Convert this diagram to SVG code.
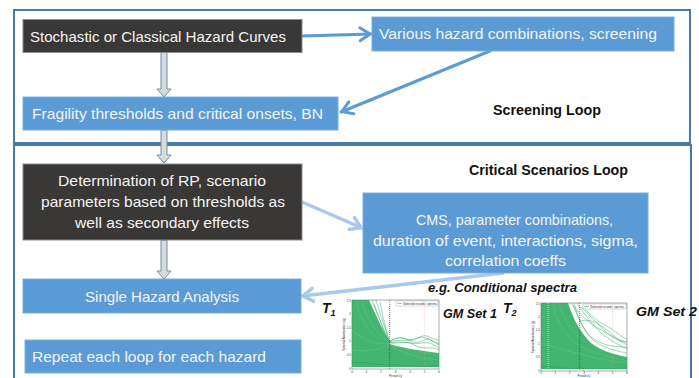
<svg xmlns="http://www.w3.org/2000/svg" width="699" height="378" viewBox="0 0 699 378">
  <style>
    .frame { fill: none; stroke: #4a78a8; stroke-width: 2; }
    .dark { fill: #3a3836; stroke: #8a8a8a; stroke-width: 1; }
    .blue { fill: #5b9bd5; stroke: #7aaede; stroke-width: 1; }
    .lbl { font-family: "Liberation Sans", Arial, sans-serif; font-size: 15px; fill: #f4f4f4; }
    .loop { font-family: "Liberation Sans", Arial, sans-serif; font-size: 14px; font-weight: bold; fill: #111; }
    .note { font-family: "Liberation Sans", Arial, sans-serif; font-size: 13px; font-weight: bold; font-style: italic; fill: #111; }
    .tsym { font-family: "Liberation Sans", Arial, sans-serif; font-size: 14px; font-weight: bold; font-style: italic; fill: #111; }
    .blk { fill: #d9d9d9; stroke: #6a8db5; stroke-width: 1; }
    .c-dark { fill: none; stroke: #5b9bd5; stroke-width: 3; stroke-linecap: round; }
    .c-light { fill: none; stroke: #a8c9e9; stroke-width: 3.5; stroke-linecap: round; }
    .axis { fill: #fff; stroke: #555; stroke-width: 0.5; }
    .crv { fill: none; stroke: #1fa356; stroke-width: 0.6; stroke-opacity: 0.75; }
    .streak { fill: none; stroke: #8fd6a8; stroke-width: 0.4; stroke-opacity: 0.6; }
    .band { fill: #1aa552; fill-opacity: 0.82; }
    .tick { font-family: "Liberation Sans", Arial, sans-serif; font-size: 3px; fill: #333; }
    .tdash { stroke: #333; stroke-width: 0.6; stroke-dasharray: 1 1; }
    .wdash { stroke: #ffffff; stroke-width: 0.6; stroke-dasharray: 1 1; }
    .rdash { stroke: #e39a9a; stroke-width: 0.4; stroke-dasharray: 0.8 0.8; }
  </style>
  <defs>
    <marker id="headDark" markerUnits="userSpaceOnUse" markerWidth="18" markerHeight="18" viewBox="-14 -9 18 18" refX="0" refY="0" orient="auto">
      <path d="M-11,-6.5 L-1,0 L-11,6.5" fill="none" stroke="#5b9bd5" stroke-width="3" stroke-linecap="round" stroke-linejoin="round"/>
    </marker>
    <marker id="headLight" markerUnits="userSpaceOnUse" markerWidth="18" markerHeight="18" viewBox="-14 -9 18 18" refX="0" refY="0" orient="auto">
      <path d="M-11,-6.5 L-1,0 L-11,6.5" fill="none" stroke="#a8c9e9" stroke-width="3.5" stroke-linecap="round" stroke-linejoin="round"/>
    </marker>
  </defs>

  <rect width="699" height="378" fill="#ffffff"/>

  <!-- loop frames -->
  <g id="frames">
    <rect class="frame" x="14" y="10" width="676" height="133"/>
    <rect class="frame" x="14" y="145" width="677" height="245"/>
  </g>

  <!-- connectors -->
  <g id="connectors">
    <polygon class="blk" points="161,52 167,52 167,89 171,89 164,97 157,89 161,89"/>
    <polygon class="blk" points="161,130 167,130 167,155 171,155 164,163 157,155 161,155"/>
    <polygon class="blk" points="161,240 167,240 167,271 171,271 164,279 157,271 161,271"/>
    <line class="c-dark" x1="302" y1="36" x2="371" y2="34" marker-end="url(#headDark)"/>
    <line class="c-dark" x1="490" y1="51" x2="341" y2="112" marker-end="url(#headDark)"/>
    <line class="c-light" x1="302" y1="202" x2="362" y2="228" marker-end="url(#headLight)"/>
    <line class="c-light" x1="503" y1="273" x2="302" y2="296" marker-end="url(#headLight)"/>
  </g>

  <g id="hazard-curves">
    <rect class="dark" x="23" y="19.5" width="279" height="33"/>
    <text class="lbl" x="30" y="41.5" textLength="256" lengthAdjust="spacingAndGlyphs">Stochastic or Classical Hazard Curves</text>
  </g>

  <g id="hazard-combinations">
    <rect class="blue" x="372" y="17" width="302" height="34"/>
    <text class="lbl" x="379" y="39" textLength="278" lengthAdjust="spacingAndGlyphs">Various hazard combinations, screening</text>
  </g>

  <g id="fragility">
    <rect class="blue" x="23" y="97" width="315" height="33"/>
    <text class="lbl" x="32" y="119" textLength="291" lengthAdjust="spacingAndGlyphs">Fragility thresholds and critical onsets, BN</text>
  </g>

  <g id="screening-loop">
    <text class="loop" x="493" y="114.5" textLength="108" lengthAdjust="spacingAndGlyphs">Screening Loop</text>
  </g>

  <g id="critical-loop">
    <text class="loop" x="469" y="175" textLength="159" lengthAdjust="spacingAndGlyphs">Critical Scenarios Loop</text>
  </g>

  <g id="return-period">
    <rect class="dark" x="23" y="164" width="279" height="76"/>
    <text class="lbl" x="58" y="186" textLength="208" lengthAdjust="spacingAndGlyphs">Determination of RP, scenario</text>
    <text class="lbl" x="41" y="207" textLength="244" lengthAdjust="spacingAndGlyphs">parameters based on thresholds as</text>
    <text class="lbl" x="75" y="227.5" textLength="174" lengthAdjust="spacingAndGlyphs">well as secondary effects</text>
  </g>

  <g id="scenario-parameters">
    <rect class="blue" x="363" y="193" width="285" height="80"/>
    <text class="lbl" x="416" y="225" textLength="197" lengthAdjust="spacingAndGlyphs">CMS, parameter combinations,</text>
    <text class="lbl" x="373" y="245.5" textLength="265" lengthAdjust="spacingAndGlyphs">duration of event, interactions, sigma,</text>
    <text class="lbl" x="445" y="265.5" textLength="121" lengthAdjust="spacingAndGlyphs">correlation coeffs</text>
  </g>

  <g id="single-hazard">
    <rect class="blue" x="23" y="279" width="278" height="34"/>
    <text class="lbl" x="85" y="302" textLength="154" lengthAdjust="spacingAndGlyphs">Single Hazard Analysis</text>
  </g>

  <g id="repeat">
    <rect class="blue" x="25" y="340" width="276" height="33"/>
    <text class="lbl" x="32" y="362" textLength="234" lengthAdjust="spacingAndGlyphs">Repeat each loop for each hazard</text>
  </g>

  <g id="spectra-note">
    <text class="note" x="428" y="292" textLength="149" lengthAdjust="spacingAndGlyphs">e.g. Conditional spectra</text>
    <text class="tsym" x="322" y="313">T<tspan font-size="9" dy="3">1</tspan></text>
    <text class="note" x="443" y="318" textLength="54" lengthAdjust="spacingAndGlyphs">GM Set 1</text>
    <text class="tsym" x="503" y="313">T<tspan font-size="9" dy="3">2</tspan></text>
    <text class="note" x="636" y="316" textLength="61" lengthAdjust="spacingAndGlyphs">GM Set 2</text>
  </g>

  <!-- ground-motion set 1: spectra conditioned at T1 -->
  <g id="gm-set-1" transform="translate(352,300)">
    <rect class="axis" x="0" y="0" width="87" height="69"/>
    <path class="band" d="M0,0 L17,0 C23,13 30,29 37.7,42 L37.7,44 C50,48 70,51 87,53 L87,67 L0,67 Z"/>
    <path class="streak" d="M4,0 C8,20 20,40 37.7,44"/>
    <path class="streak" d="M10,0 C14,18 24,34 37.7,43"/>
    <path class="streak" d="M0,30 C10,40 25,44 37.7,44 C55,50 70,52 87,55"/>
    <path class="streak" d="M0,50 C15,52 28,50 37.7,45 C55,56 70,58 87,60"/>
    <path class="crv" d="M20,0 C26,15 32,32 37.7,42"/>
    <path class="crv" d="M24,0 C29,16 34,32 37.7,42"/>
    <path class="crv" d="M28,2 C31,18 35,34 37.7,42"/>
    <path class="crv" d="M22,4 C28,20 33,34 37.7,43"/>
    <path class="crv" d="M37.7,42 C45,36 50,38 58,40 C64,42 68,34 75,36 C80,38 84,40 87,40"/>
    <path class="crv" d="M37.7,42 C44,39 55,42 65,38 C72,35 78,40 87,44"/>
    <path class="crv" d="M37.7,43 C48,40 60,45 70,43 C78,41 83,46 87,48"/>
    <path class="crv" d="M37.7,42 C42,38 48,36 54,39 C60,42 64,44 72,40 C78,37 82,42 87,45"/>
    <path class="crv" d="M37.7,43 C46,44 56,40 62,45 C70,50 80,46 87,50"/>
    <path class="crv" d="M0,63 C5,61 12,63 22,64 C40,65 60,66 87,66"/>
    <line class="tdash" x1="37.7" y1="0" x2="37.7" y2="69"/>
    <line class="rdash" x1="72.5" y1="0" x2="72.5" y2="69"/>
    <rect x="44" y="1" width="42" height="5" fill="#fff" stroke="#888" stroke-width="0.3"/>
    <line x1="45.5" y1="3.5" x2="50" y2="3.5" stroke="#1fa356" stroke-width="0.5"/>
    <text class="tick" x="51" y="4.6" font-size="2.6">Selected records' spectra</text>
    <g class="tick" text-anchor="end">
      <text x="-1" y="70">0</text><text x="-1" y="56.2">0.5</text><text x="-1" y="42.4">1</text>
      <text x="-1" y="28.6">1.5</text><text x="-1" y="14.8">2</text><text x="-1" y="2">2.5</text>
    </g>
    <g class="tick" text-anchor="middle">
      <text x="0" y="72.5">0</text><text x="14.5" y="72.5">1</text><text x="29" y="72.5">2</text><text x="43.5" y="72.5">3</text>
      <text x="58" y="72.5">4</text><text x="72.5" y="72.5">5</text><text x="87" y="72.5">6</text>
      <text x="43.5" y="76.5">Period (s)</text>
      <text transform="translate(-7,34.5) rotate(-90)">Spectral Acceleration (g)</text>
    </g>
  </g>

  <!-- ground-motion set 2: spectra conditioned at T2 -->
  <g id="gm-set-2" transform="translate(541,303)">
    <rect class="axis" x="0" y="0" width="86" height="68"/>
    <path class="band" d="M0,0 L27,0 C33,18 40,30 50,40 C60,48 75,52 86,54 L86,66 L0,66 Z"/>
    <path class="streak" d="M12,0 C16,22 28,40 50,48 C62,52 76,56 86,58"/>
    <path class="streak" d="M18,0 C22,18 32,32 46,40"/>
    <path class="streak" d="M0,40 C20,46 40,52 60,56 C70,58 80,60 86,60"/>
    <path class="crv" d="M30,0 C38,10 45,18 55,24 C65,30 75,36 86,40"/>
    <path class="crv" d="M36,0 C44,12 50,20 60,30 C70,38 78,42 86,46"/>
    <path class="crv" d="M40,4 C50,14 58,22 66,30 C74,36 80,40 86,38"/>
    <path class="crv" d="M33,0 C38,18 44,32 56,40 C66,46 76,48 86,50"/>
    <path class="crv" d="M38.7,18 C46,16 54,18 62,24 C70,30 78,38 86,42"/>
    <path class="crv" d="M32,2 C36,12 42,26 50,34 C60,42 72,44 86,44"/>
    <path class="crv" d="M44,6 C50,12 56,18 64,22 C72,26 80,34 86,36"/>
    <path class="crv" d="M0,64 C6,63 12,64 24,65 C44,66 66,66 86,66"/>
    <line class="wdash" x1="7.2" y1="0" x2="7.2" y2="68"/>
    <line class="tdash" x1="38.7" y1="0" x2="38.7" y2="68"/>
    <line class="rdash" x1="71.7" y1="0" x2="71.7" y2="68"/>
    <rect x="42" y="1" width="43" height="5" fill="#fff" stroke="#888" stroke-width="0.3"/>
    <line x1="43.5" y1="3.5" x2="48" y2="3.5" stroke="#1fa356" stroke-width="0.5"/>
    <text class="tick" x="49" y="4.6" font-size="2.6">Selected records' spectra</text>
    <g class="tick" text-anchor="end">
      <text x="-1" y="69">0</text><text x="-1" y="55.4">0.5</text><text x="-1" y="41.8">1</text>
      <text x="-1" y="28.2">1.5</text><text x="-1" y="14.6">2</text><text x="-1" y="2">2.5</text>
    </g>
    <g class="tick" text-anchor="middle" font-size="2.6">
      <text x="0" y="70.8">0</text><text x="14.3" y="70.8">1</text><text x="28.7" y="70.8">2</text><text x="43" y="70.8">3</text>
      <text x="57.3" y="70.8">4</text><text x="71.7" y="70.8">5</text><text x="86" y="70.8">6</text>
      <text x="43" y="74">Period (s)</text>
    </g>
    <text class="tick" text-anchor="middle" transform="translate(-7,34) rotate(-90)">Spectral Acceleration (g)</text>
  </g>
</svg>
